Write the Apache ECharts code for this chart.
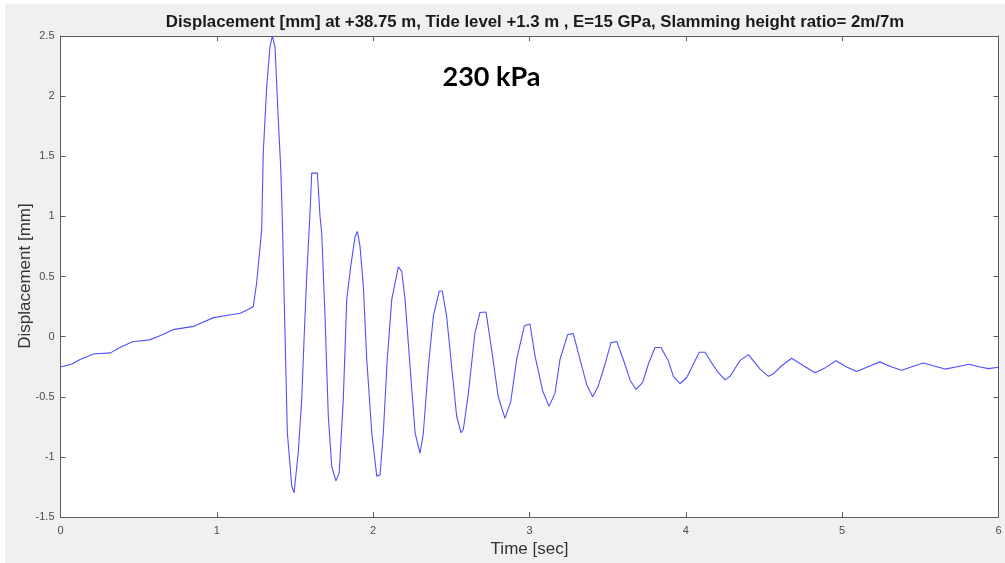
<!DOCTYPE html>
<html><head><meta charset="utf-8">
<script src="https://cdn.jsdelivr.net/npm/echarts@6/dist/echarts.min.js"></script>
<style>html,body{margin:0;padding:0;background:#fff}#c{width:1005px;height:563px}</style>
</head><body><div id="c"></div>
<script>
const titleText = 'Displacement [mm] at +38.75 m, Tide level +1.3 m , E=15 GPa, Slamming height ratio= 2m/7m';
const annotation = '230 kPa';
const xLabel = 'Time [sec]';
const yLabel = 'Displacement [mm]';
const xTicks = [0, 1, 2, 3, 4, 5, 6];
const yTicks = [-1.5, -1, -0.5, 0, 0.5, 1, 1.5, 2, 2.5];

const time = [0, 0.02, 0.07, 0.125, 0.21, 0.32, 0.38, 0.46, 0.57, 0.64, 0.72, 0.85, 0.91, 0.98, 1.08, 1.15, 1.2, 1.233,
  1.255, 1.287, 1.297, 1.319, 1.340, 1.355, 1.372, 1.393, 1.409, 1.419, 1.425, 1.436, 1.451, 1.479, 1.494, 1.521, 1.543, 1.558, 1.575, 1.596, 1.607, 1.643, 1.660, 1.671, 1.692, 1.713, 1.735, 1.762, 1.783, 1.809, 1.831, 1.856, 1.884, 1.899, 1.916, 1.937, 1.959, 1.991, 2.023, 2.044, 2.065, 2.090, 2.119, 2.161, 2.183, 2.204, 2.236, 2.268, 2.300, 2.321, 2.353, 2.385, 2.423, 2.442, 2.470, 2.502, 2.534, 2.562, 2.577, 2.609, 2.651, 2.683, 2.722, 2.758, 2.800, 2.843, 2.880, 2.918, 2.967, 3.003, 3.035, 3.084, 3.125, 3.163, 3.195, 3.244, 3.280, 3.323, 3.366, 3.404, 3.440, 3.483, 3.521, 3.558, 3.600, 3.643, 3.681, 3.724, 3.760, 3.803, 3.841, 3.888, 3.920, 3.963, 4.006, 4.048, 4.086, 4.123, 4.166, 4.208, 4.251, 4.283, 4.346, 4.400, 4.475, 4.528, 4.559, 4.615, 4.677, 4.750, 4.826, 4.890, 4.961, 5.025, 5.093, 5.165, 5.242, 5.312, 5.381, 5.447, 5.519, 5.588, 5.658, 5.735, 5.813, 5.875, 5.935, 6.0];

const displacement = [-0.25, -0.247, -0.23, -0.19, -0.145, -0.135, -0.09, -0.042, -0.027, 0.01, 0.058, 0.085, 0.12, 0.158, 0.18, 0.195, 0.225, 0.25,
  0.45, 0.89, 1.53, 2.08, 2.41, 2.50, 2.41, 1.81, 1.39, 0.97, 0.64, 0.03, -0.80, -1.24, -1.30, -0.96, -0.52, -0.02, 0.50, 1.03, 1.36, 1.36, 1.0, 0.86, 0.17, -0.66, -1.08, -1.20, -1.13, -0.52, 0.31, 0.58, 0.83, 0.875, 0.75, 0.42, -0.19, -0.80, -1.16, -1.15, -0.80, -0.19, 0.31, 0.58, 0.54, 0.31, -0.25, -0.80, -0.97, -0.80, -0.25, 0.17, 0.38, 0.38, 0.17, -0.25, -0.66, -0.80, -0.77, -0.47, 0.03, 0.20, 0.205, -0.11, -0.50, -0.68, -0.54, -0.19, 0.09, 0.105, -0.16, -0.45, -0.58, -0.47, -0.19, 0.017, 0.025, -0.19, -0.40, -0.50, -0.41, -0.23, -0.05, -0.04, -0.19, -0.36, -0.44, -0.38, -0.23, -0.09, -0.09, -0.20, -0.33, -0.39, -0.34, -0.23, -0.13, -0.13, -0.22, -0.30, -0.36, -0.33, -0.20, -0.15, -0.27, -0.33, -0.31, -0.24, -0.18, -0.24, -0.30, -0.26, -0.20, -0.25, -0.29, -0.25, -0.21, -0.25, -0.28, -0.25, -0.22, -0.245, -0.27, -0.25, -0.23, -0.25, -0.266, -0.255];

const seriesData = time.map((t, i) => [t, displacement[i]]);

const chart = echarts.init(document.getElementById('c'), null, {renderer: 'canvas'});
const axisLine = {show: true, onZero: false, lineStyle: {color: '#5a5a5a', width: 1}};
const tickIn = {show: true, inside: true, length: 5, lineStyle: {color: '#5a5a5a'}};
const lblStyle = {color: '#4d4d4d', fontSize: 11, fontFamily: 'Liberation Sans, Arial, sans-serif'};
const nameStyle = {fontSize: 17, color: '#333', fontFamily: 'Liberation Sans, Arial, sans-serif'};
chart.setOption({
  animation: false,
  backgroundColor: '#ffffff',
  graphic: [
    {type: 'rect', z: -10, shape: {x: 5, y: 4, width: 1000, height: 559}, style: {fill: '#f0f0f0'}},
    {type: 'rect', z: -5, shape: {x: 60.5, y: 36, width: 938, height: 482}, style: {fill: '#ffffff'}},
    {type: 'text', z: 10, style: {text: annotation, x: 491.5, y: 77, textAlign: 'center', textVerticalAlign: 'middle', fill: '#000', font: 'bold 27px Lato, "Open Sans", sans-serif'}},
    {type: 'text', z: 10, x: 25, y: 276, rotation: Math.PI / 2, style: {text: yLabel, x: 0, y: 0, textAlign: 'center', textVerticalAlign: 'middle', fill: '#333', font: '17px "Liberation Sans", Arial, sans-serif'}}
  ],
  title: {text: titleText, left: 530, top: 9, textAlign: 'center',
    textStyle: {fontSize: 16.8, fontWeight: 'bold', color: '#1a1a1a', fontFamily: 'Liberation Sans, Arial, sans-serif'}},
  grid: {left: 60.5, right: 6.5, top: 36, bottom: 45.3, containLabel: false},
  xAxis: [
    {type: 'value', min: 0, max: 6, interval: 1, position: 'bottom',
      name: xLabel, nameLocation: 'middle', nameGap: 24, nameTextStyle: nameStyle,
      axisLine: axisLine, axisTick: tickIn, splitLine: {show: false},
      axisLabel: Object.assign({margin: 8}, lblStyle)},
    {type: 'value', min: 0, max: 6, interval: 1, position: 'top',
      axisLine: axisLine, axisTick: tickIn, splitLine: {show: false}, axisLabel: {show: false}}
  ],
  yAxis: [
    {type: 'value', min: -1.5, max: 2.5, interval: 0.5, position: 'left',
      axisLine: axisLine, axisTick: tickIn, splitLine: {show: false},
      axisLabel: Object.assign({margin: 6, formatter: v => String(v)}, lblStyle)},
    {type: 'value', min: -1.5, max: 2.5, interval: 0.5, position: 'right',
      axisLine: axisLine, axisTick: tickIn, splitLine: {show: false}, axisLabel: {show: false}}
  ],
  series: [{
    type: 'line', data: seriesData, showSymbol: false, smooth: false,
    lineStyle: {color: '#4f4fff', width: 1.1}, xAxisIndex: 0, yAxisIndex: 0
  }]
});
</script></body></html>
